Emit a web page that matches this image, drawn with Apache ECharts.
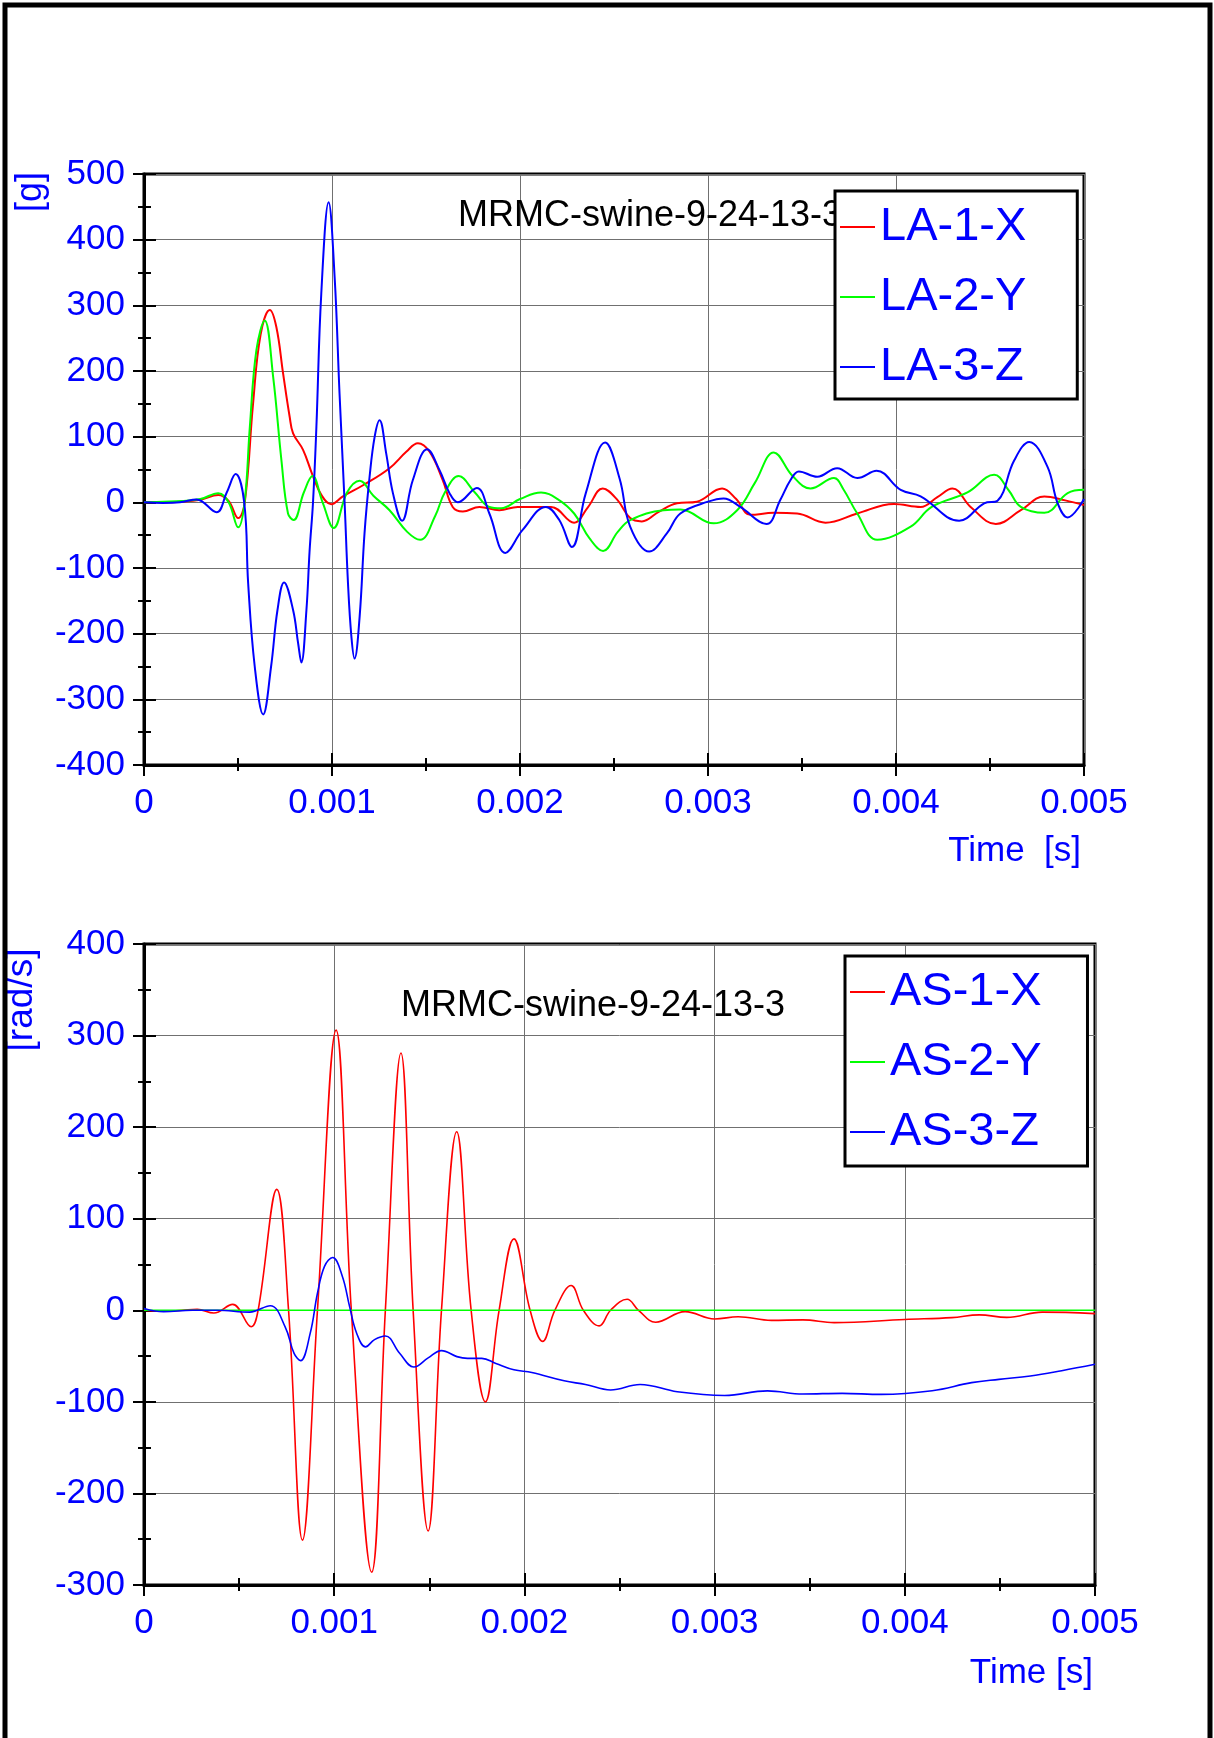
<!DOCTYPE html>
<html>
<head>
<meta charset="utf-8">
<title>MRMC-swine-9-24-13-3</title>
<script src="https://cdn.jsdelivr.net/npm/echarts@6/dist/echarts.min.js"></script>
<style>
  html, body { margin: 0; padding: 0; background: #fff; }
  #chart { width: 1214px; height: 1738px; }
</style>
</head>
<body>
<div id="chart"></div>
<script>
var FONT = '"Liberation Sans", Arial, sans-serif';
var BLUE = '#0000ff';

// ---- top chart: linear acceleration [g] vs time (ms) ----
var la1x = [[0,0],[0.1,0],[0.2,1],[0.3,4],[0.395,11],[0.45,2],[0.501,-24],[0.536,0],[0.58,150],[0.62,255],
  [0.669,293],[0.704,267],[0.74,196],[0.775,130],[0.793,105],[0.846,80],[0.896,42],[0.944,11],[0.996,-3],
  [1.058,9],[1.165,26],[1.306,52],[1.395,77],[1.457,90],[1.519,77],[1.589,34],[1.642,-7],[1.696,-14],
  [1.784,-7],[1.89,-12],[1.988,-7],[2.165,-7],[2.288,-31],[2.36,-8],[2.44,21],[2.52,3],[2.586,-24],
  [2.648,-29],[2.74,-14],[2.835,-1.5],[2.941,1],[3.075,21],[3.15,5],[3.226,-19],[3.35,-16],[3.474,-17],
  [3.625,-31],[3.794,-17],[3.989,-2.5],[4.131,-7],[4.22,8],[4.30,21],[4.4,-8],[4.531,-33],[4.664,-12],
  [4.789,9],[4.9,3],[5.0,-4]];
var la2y = [[0,0],[0.1,1],[0.2,2],[0.3,5],[0.395,14],[0.45,0],[0.501,-38],[0.535,0],[0.563,115],[0.598,232],
  [0.642,277],[0.687,191],[0.731,64],[0.766,-17],[0.796,-27],[0.85,15],[0.896,40],[0.95,0],[1.009,-39],
  [1.08,15],[1.147,33],[1.22,10],[1.306,-12],[1.4,-45],[1.469,-57],[1.55,-20],[1.6,15],[1.674,40],
  [1.76,15],[1.837,-7],[1.899,-9],[2.0,5],[2.112,15],[2.2,5],[2.288,-17],[2.37,-55],[2.442,-74],
  [2.52,-45],[2.586,-27],[2.764,-12],[2.853,-11],[3.03,-32],[3.155,-12],[3.25,30],[3.35,76],[3.45,40],
  [3.545,21],[3.67,37],[3.72,20],[3.794,-17],[3.9,-57],[4.078,-37],[4.19,-7],[4.38,15],[4.522,42],
  [4.6,18],[4.664,-7],[4.789,-16],[4.913,14],[5.0,19]];
var la3z = [[0,0],[0.1,-1],[0.191,0],[0.28,4.5],[0.386,-15],[0.44,15],[0.487,43],[0.533,0],[0.554,-123],
  [0.589,-250],[0.634,-323],[0.676,-250],[0.71,-164],[0.745,-122],[0.793,-164],[0.82,-215],[0.837,-244],
  [0.864,-164],[0.881,-73],[0.899,0],[0.917,115],[0.943,318],[0.982,457],[1.014,343],[1.04,166],[1.067,0],
  [1.085,-123],[1.103,-204],[1.12,-238],[1.147,-174],[1.173,-47],[1.2,39],[1.227,100],[1.253,125],
  [1.288,75],[1.324,14],[1.373,-28],[1.43,34],[1.506,81],[1.572,49],[1.625,14],[1.669,0],[1.77,22],
  [1.837,-17],[1.922,-77],[2.014,-42],[2.138,-7],[2.209,-27],[2.276,-68],[2.35,14],[2.453,91],[2.53,36],
  [2.586,-37],[2.687,-75],[2.782,-47],[2.853,-17],[3.0,1],[3.083,6],[3.172,-7],[3.311,-33],[3.385,4],
  [3.439,34],[3.483,47],[3.581,39],[3.687,52],[3.794,37],[3.897,48],[4.025,19],[4.131,9],[4.336,-28],
  [4.469,-1.5],[4.54,2.5],[4.629,64],[4.709,92],[4.806,54],[4.86,-1.5],[4.913,-23],[5.0,5]];

// ---- bottom chart: angular speed [rad/s] vs time (ms) ----
var as1x = [[0,0],[0.1,-1],[0.2,0],[0.28,1],[0.367,-3],[0.466,6.5],[0.564,-18],[0.6,0],[0.698,132],
  [0.76,0],[0.833,-251],[0.912,0],[1.010,306],[1.09,0],[1.197,-286],[1.269,0],[1.351,281],[1.415,0],
  [1.494,-241],[1.564,0],[1.644,195],[1.72,0],[1.795,-100],[1.867,0],[1.945,78],[2.03,0],[2.096,-34],
  [2.16,0],[2.246,27],[2.31,0],[2.393,-17],[2.453,0],[2.54,12],[2.6,0],[2.69,-13],[2.845,-1.5],
  [3.0,-9.5],[3.124,-7],[3.299,-11],[3.464,-10.5],[3.629,-13.5],[4.0,-10],[4.247,-8],[4.392,-5],
  [4.536,-7.7],[4.722,-2],[5.0,-3.6]];
var as2y = [[0,0],[1,0],[2,0],[3,0],[4,0],[5,0]];
var as3z = [[0,2],[0.103,-1.5],[0.254,0],[0.385,0],[0.555,-2],[0.664,5],[0.742,-18],[0.789,-47],
  [0.823,-55],[0.874,-25],[0.912,18.6],[0.949,48],[0.992,57.6],[1.043,37],[1.081,4],[1.118,-25],
  [1.165,-40],[1.212,-32],[1.269,-28],[1.344,-47],[1.419,-62],[1.494,-52],[1.564,-44],[1.645,-50.6],
  [1.701,-52.5],[1.776,-52.5],[1.85,-58],[1.945,-65],[2.039,-68],[2.209,-77],[2.321,-81],[2.453,-87],
  [2.608,-81],[2.804,-89],[3.052,-93],[3.278,-88],[3.464,-91.4],[3.67,-90.7],[3.876,-91.8],
  [4.144,-87.8],[4.351,-79],[4.495,-75.4],[4.66,-71.8],[4.825,-66],[5.0,-59]];

var topNames = ['LA-1-X', 'LA-2-Y', 'LA-3-Z'];
var bottomNames = ['AS-1-X', 'AS-2-Y', 'AS-3-Z'];
var colors = ['#ff0000', '#00ff00', '#0000ff'];
var chartTitle = 'MRMC-swine-9-24-13-3';

function toSeconds(arr) {
  return arr.map(function (p) { return [p[0] / 1000, p[1]]; });
}

// each grid gets two axes per dimension: one with labels + outer ticks, one with inner ticks only
function axisPair(gridIndex, pos, min, max, interval, isX) {
  var main = {
    type: 'value', gridIndex: gridIndex, position: pos, min: min, max: max, interval: interval,
    axisLine: { show: true, onZero: false, lineStyle: { color: '#000', width: 3 } },
    axisTick: { show: true, inside: false, length: 11, lineStyle: { color: '#000', width: 2 } },
    minorTick: { show: true, splitNumber: 2, length: 6, lineStyle: { color: '#000', width: 2 } },
    splitLine: { show: true, lineStyle: { color: '#707070', width: 1 } },
    minorSplitLine: { show: false },
    axisLabel: {
      show: true, margin: isX ? 21 : 19, color: BLUE, fontSize: 35, fontFamily: FONT,
      formatter: isX
        ? function (v) { return v === 0 ? '0' : v.toFixed(3); }
        : function (v) { return String(Math.round(v)); }
    }
  };
  var inner = {
    type: 'value', gridIndex: gridIndex, position: pos, min: min, max: max, interval: interval,
    axisLine: { show: false, onZero: false },
    axisTick: { show: true, inside: true, length: 12, lineStyle: { color: '#000', width: 2 } },
    minorTick: { show: true, splitNumber: 2, length: 7, lineStyle: { color: '#000', width: 2 } },
    splitLine: { show: false },
    axisLabel: { show: false }
  };
  return [main, inner];
}

function lineSeries(name, data, color, xi, yi, width) {
  return {
    name: name, type: 'line', xAxisIndex: xi, yAxisIndex: yi,
    data: toSeconds(data), showSymbol: false, smooth: 0.4, silent: true,
    lineStyle: { color: color, width: width }, itemStyle: { color: color }
  };
}

function legendBox(names, left, top, padding) {
  return {
    data: names, orient: 'vertical', left: left, top: top, padding: padding,
    itemGap: 22, itemWidth: 35, itemHeight: 2, icon: 'rect', selectedMode: false,
    backgroundColor: '#fff', borderColor: '#000', borderWidth: 3, borderRadius: 0, z: 10,
    textStyle: { color: BLUE, fontSize: 47, fontFamily: FONT, lineHeight: 48 }
  };
}

var chart = echarts.init(document.getElementById('chart'), null, { renderer: 'canvas' });

var option = {
  animation: false,
  backgroundColor: '#fff',
  grid: [
    { left: 144, top: 174, width: 940, height: 591, show: true, borderColor: '#000', borderWidth: 3,
      backgroundColor: 'transparent', outerBoundsMode: 'none' },
    { left: 144, top: 944, width: 951, height: 641, show: true, borderColor: '#000', borderWidth: 3,
      backgroundColor: 'transparent', outerBoundsMode: 'none' }
  ],
  xAxis: [].concat(
    axisPair(0, 'bottom', 0, 0.005, 0.001, true),
    axisPair(1, 'bottom', 0, 0.005, 0.001, true)
  ),
  yAxis: [].concat(
    axisPair(0, 'left', -400, 500, 100, false),
    axisPair(1, 'left', -300, 400, 100, false)
  ),
  legend: [
    legendBox(topNames, 835, 191, [12, 51, 8, 5]),
    legendBox(bottomNames, 845, 956, [12, 46, 10, 5])
  ],
  series: [
    lineSeries(topNames[0], la1x, colors[0], 0, 0, 2),
    lineSeries(topNames[1], la2y, colors[1], 0, 0, 2),
    lineSeries(topNames[2], la3z, colors[2], 0, 0, 2),
    lineSeries(bottomNames[0], as1x, colors[0], 2, 2, 1.6),
    lineSeries(bottomNames[1], as2y, colors[1], 2, 2, 1.6),
    lineSeries(bottomNames[2], as3z, colors[2], 2, 2, 1.6)
  ],
  graphic: [
    { type: 'text', x: 458, y: 216, z: 1,
      style: { text: chartTitle, fontSize: 36, fontFamily: FONT, fill: '#000', align: 'left', verticalAlign: 'middle' } },
    { type: 'text', x: 401, y: 1006, z: 1,
      style: { text: chartTitle, fontSize: 36, fontFamily: FONT, fill: '#000', align: 'left', verticalAlign: 'middle' } },
    { type: 'text', x: 31, y: 192, rotation: Math.PI / 2,
      style: { text: '[g]', fontSize: 36, fontFamily: FONT, fill: BLUE, align: 'center', verticalAlign: 'middle' } },
    { type: 'text', x: 22, y: 1000, rotation: Math.PI / 2,
      style: { text: '[rad/s]', fontSize: 37, fontFamily: FONT, fill: BLUE, align: 'center', verticalAlign: 'middle' } },
    { type: 'text', x: 1081, y: 851,
      style: { text: 'Time  [s]', fontSize: 35, fontFamily: FONT, fill: BLUE, align: 'right', verticalAlign: 'middle' } },
    { type: 'text', x: 1093, y: 1673,
      style: { text: 'Time [s]', fontSize: 35, fontFamily: FONT, fill: BLUE, align: 'right', verticalAlign: 'middle' } },
    // page frame (left, top, right)
    { type: 'polyline', z: 100,
      shape: { points: [[5, 1738], [5, 5], [1210, 5], [1210, 1738]] },
      style: { stroke: '#000', lineWidth: 5, fill: null } }
  ]
};

chart.setOption(option);
</script>
</body>
</html>
